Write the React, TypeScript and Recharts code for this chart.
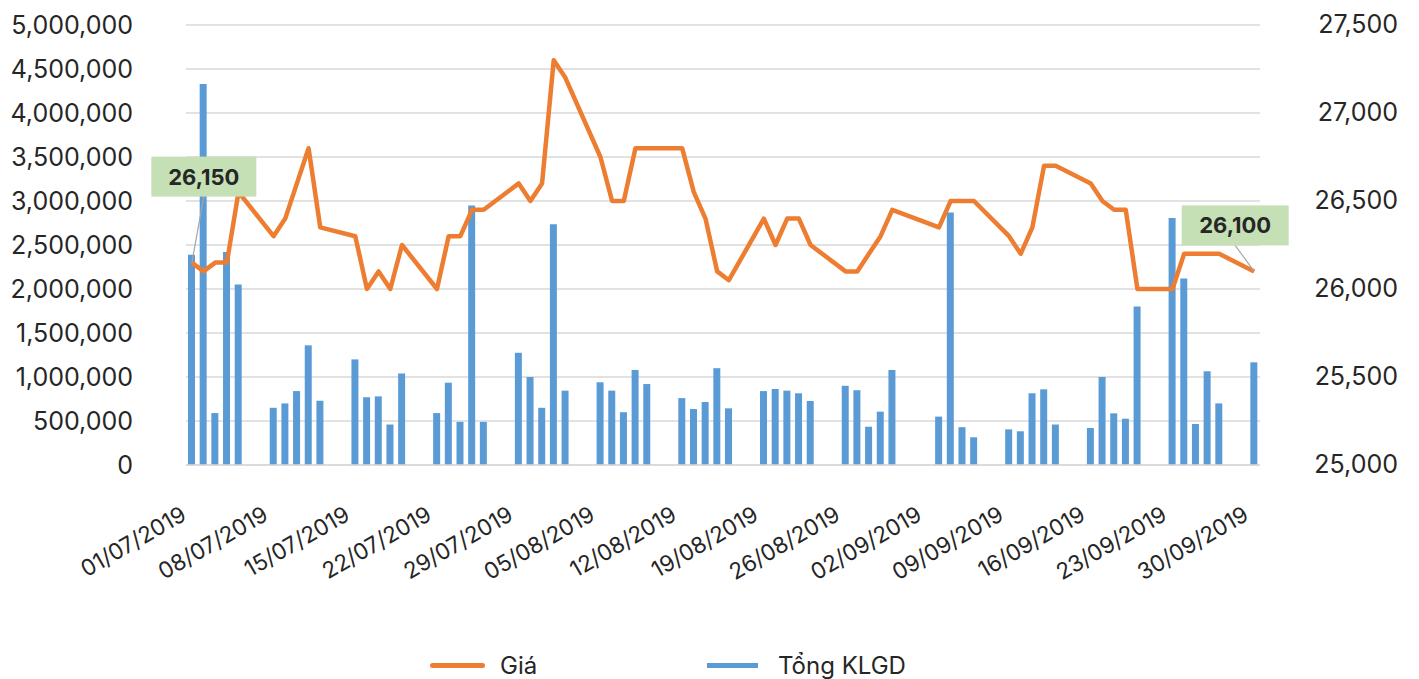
import React from 'react'
import {
  ComposedChart,
  Bar,
  Line,
  XAxis,
  YAxis,
  CartesianGrid,
  Legend,
} from 'recharts'

// calendar days 01/07/2019 - 30/09/2019 (one row per week)
const dates = [
  '01/07/2019', '02/07/2019', '03/07/2019', '04/07/2019', '05/07/2019', '06/07/2019', '07/07/2019',
  '08/07/2019', '09/07/2019', '10/07/2019', '11/07/2019', '12/07/2019', '13/07/2019', '14/07/2019',
  '15/07/2019', '16/07/2019', '17/07/2019', '18/07/2019', '19/07/2019', '20/07/2019', '21/07/2019',
  '22/07/2019', '23/07/2019', '24/07/2019', '25/07/2019', '26/07/2019', '27/07/2019', '28/07/2019',
  '29/07/2019', '30/07/2019', '31/07/2019', '01/08/2019', '02/08/2019', '03/08/2019', '04/08/2019',
  '05/08/2019', '06/08/2019', '07/08/2019', '08/08/2019', '09/08/2019', '10/08/2019', '11/08/2019',
  '12/08/2019', '13/08/2019', '14/08/2019', '15/08/2019', '16/08/2019', '17/08/2019', '18/08/2019',
  '19/08/2019', '20/08/2019', '21/08/2019', '22/08/2019', '23/08/2019', '24/08/2019', '25/08/2019',
  '26/08/2019', '27/08/2019', '28/08/2019', '29/08/2019', '30/08/2019', '31/08/2019', '01/09/2019',
  '02/09/2019', '03/09/2019', '04/09/2019', '05/09/2019', '06/09/2019', '07/09/2019', '08/09/2019',
  '09/09/2019', '10/09/2019', '11/09/2019', '12/09/2019', '13/09/2019', '14/09/2019', '15/09/2019',
  '16/09/2019', '17/09/2019', '18/09/2019', '19/09/2019', '20/09/2019', '21/09/2019', '22/09/2019',
  '23/09/2019', '24/09/2019', '25/09/2019', '26/09/2019', '27/09/2019', '28/09/2019', '29/09/2019',
  '30/09/2019',
]

// Tổng KLGD (null = no trading)
const volume = [
  2390000, 4330000, 590000, 2420000, 2050000, null, null,
  650000, 700000, 840000, 1360000, 730000, null, null,
  1200000, 770000, 780000, 460000, 1040000, null, null,
  590000, 935000, 490000, 2950000, 490000, null, null,
  1275000, 1000000, 650000, 2735000, 845000, null, null,
  940000, 845000, 600000, 1080000, 920000, null, null,
  760000, 636000, 716000, 1100000, 644000, null, null,
  840000, 864000, 845000, 815000, 727000, null, null,
  900000, 850000, 435000, 606000, 1080000, null, null,
  null, 550000, 2870000, 430000, 315000, null, null,
  405000, 383000, 815000, 860000, 460000, null, null,
  420000, 1000000, 587000, 526000, 1800000, null, null,
  2807000, 2120000, 466000, 1065000, 700000, null, null,
  1167000,
]

// Giá
const price = [
  26150, 26100, 26150, 26150, 26550, null, null,
  26300, 26400, 26600, 26800, 26350, null, null,
  26300, 26000, 26100, 26000, 26250, null, null,
  26000, 26300, 26300, 26450, 26450, null, null,
  26600, 26500, 26600, 27300, 27200, null, null,
  26750, 26500, 26500, 26800, 26800, null, null,
  26800, 26550, 26400, 26100, 26050, null, null,
  26400, 26250, 26400, 26400, 26250, null, null,
  26100, 26100, 26200, 26300, 26450, null, null,
  null, 26350, 26500, 26500, 26500, null, null,
  26300, 26200, 26350, 26700, 26700, null, null,
  26600, 26500, 26450, 26450, 26000, null, null,
  26000, 26200, 26200, 26200, 26200, null, null,
  26100,
]

const volumeTicks = [0, 500000, 1000000, 1500000, 2000000, 2500000, 3000000, 3500000, 4000000, 4500000, 5000000]
const priceTicks = [25000, 25500, 26000, 26500, 27000, 27500]

const data = dates.map((d, i) => ({ date: d, volume: volume[i], price: price[i] }))

const FONT = 'Inter, Lato, sans-serif'
const TEXT = '#262626'
const ORANGE = '#ED7D31'
const BLUE = '#5B9BD5'

const fmt = (v: number) => v.toLocaleString('en-US')

const DateTick = (props: any) => {
  const { x, y, payload } = props
  const ax = x - 4
  const ay = y + 52
  return (
    <text
      x={ax}
      y={ay}
      textAnchor="end"
      transform={`rotate(-30, ${ax}, ${ay})`}
      fontSize={22.5}
      fontFamily={FONT}
      fill={TEXT}
    >
      {payload.value}
    </text>
  )
}

const RightTick = (props: any) => {
  const { x, y, payload } = props
  return (
    <text x={x} y={y} dy={8} textAnchor="end" fontSize={25} fontFamily={FONT} fill={TEXT}>
      {fmt(payload.value)}
    </text>
  )
}

// callout boxes for first and last price
const PriceCallout = (props: any) => {
  const { x, y, index, value } = props
  if (value == null) return null
  let dx = 0
  let dy = 0
  let w = 105
  if (index === 0) {
    dx = 12
    dy = -86
  } else if (index === dates.length - 1) {
    dx = -19
    dy = -46
    w = 107
  } else {
    return null
  }
  const cx = x + dx
  const cy = y + dy
  return (
    <g>
      <line x1={x} y1={y} x2={cx} y2={cy + 20} stroke="#A6A6A6" strokeWidth={1.2} />
      <rect x={cx - w / 2} y={cy - 20} width={w} height={40} fill="#C5E0B4" />
      <text
        x={cx}
        y={cy}
        dy={8}
        textAnchor="middle"
        fontSize={22}
        fontWeight="bold"
        fontFamily={FONT}
        fill="#262626"
      >
        {fmt(value)}
      </text>
    </g>
  )
}

const LegendBox = () => (
  <div style={{ position: 'relative', height: 28, fontFamily: FONT, fontSize: 24, color: TEXT }}>
    <div style={{ position: 'absolute', left: 430, top: 12, width: 55, height: 5, borderRadius: 3, background: ORANGE }} />
    <div style={{ position: 'absolute', left: 500, top: 0, lineHeight: '30px' }}>Giá</div>
    <div style={{ position: 'absolute', left: 707, top: 12, width: 51, height: 5, background: BLUE }} />
    <div style={{ position: 'absolute', left: 778, top: 0, lineHeight: '30px' }}>Tổng KLGD</div>
  </div>
)

export default function App() {
  return (
    <div style={{ position: 'absolute', left: 0, top: 0, background: '#fff' }}>
      <ComposedChart width={1419} height={679} data={data} margin={{ top: 25, right: 0, bottom: 0, left: 0 }}>
        <CartesianGrid yAxisId="vol" vertical={false} stroke="#D9D9D9" strokeWidth={1.5} />
        <XAxis
          dataKey="date"
          interval={6}
          height={186}
          tick={<DateTick />}
          tickLine={false}
          tickSize={0}
          axisLine={{ stroke: '#D9D9D9', strokeWidth: 1.5 }}
        />
        <YAxis
          yAxisId="vol"
          orientation="left"
          width={186}
          domain={[0, 5000000]}
          ticks={volumeTicks}
          tickFormatter={fmt}
          axisLine={false}
          tickLine={false}
          tickSize={0}
          tickMargin={53}
          tick={{ fontSize: 25, fontFamily: FONT, fill: TEXT }}
        />
        <YAxis
          yAxisId="price"
          orientation="right"
          width={159}
          domain={[25000, 27500]}
          ticks={priceTicks}
          axisLine={false}
          tickLine={false}
          tickSize={0}
          tickMargin={138}
          tick={<RightTick />}
        />
        <Legend verticalAlign="bottom" content={<LegendBox />} />
        <Bar yAxisId="vol" dataKey="volume" name="Tổng KLGD" fill={BLUE} barSize={7} isAnimationActive={false} />
        <Line
          yAxisId="price"
          dataKey="price"
          name="Giá"
          stroke={ORANGE}
          strokeWidth={4.5}
          strokeLinejoin="round"
          connectNulls
          dot={false}
          activeDot={false}
          label={<PriceCallout />}
          isAnimationActive={false}
        />
      </ComposedChart>
    </div>
  )
}
